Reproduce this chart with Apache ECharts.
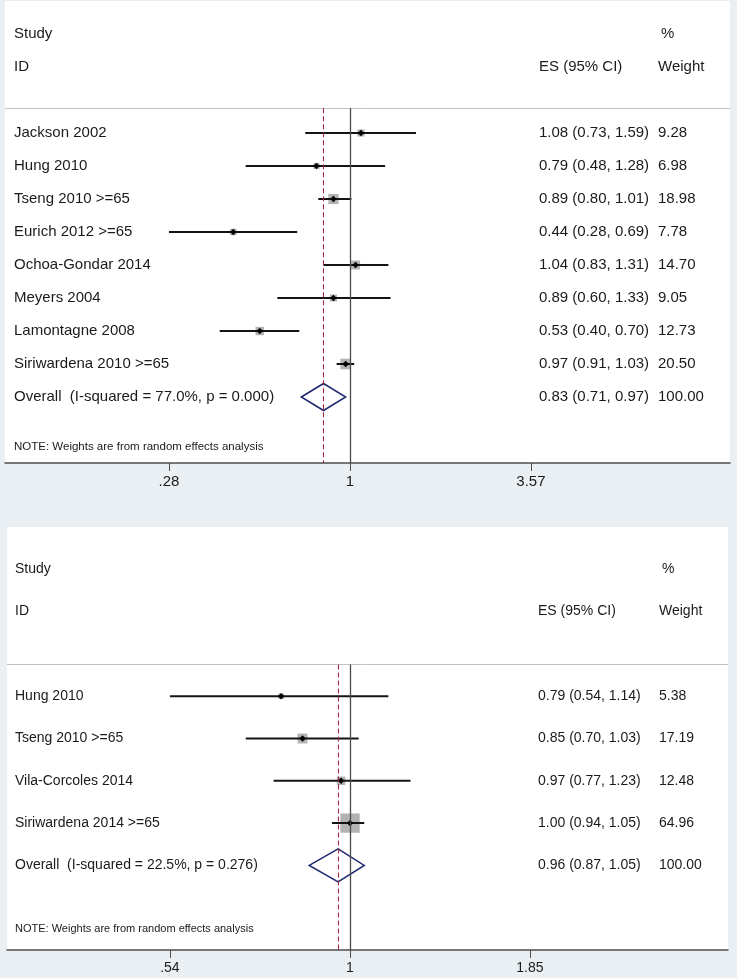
<!DOCTYPE html>
<html>
<head>
<meta charset="utf-8">
<script src="https://cdn.jsdelivr.net/npm/echarts@6/dist/echarts.min.js"></script>
<style>
html,body{margin:0;padding:0;background:#e9eff2;}
#main{width:737px;height:978px;}
</style>
</head>
<body>
<div id="main"></div>
<script>
// ---------- Panel A data ----------
const studiesA = ['Jackson 2002','Hung 2010','Tseng 2010 >=65','Eurich 2012 >=65','Ochoa-Gondar 2014','Meyers 2004','Lamontagne 2008','Siriwardena 2010 >=65'];
const esA     = [1.08, 0.79, 0.89, 0.44, 1.04, 0.89, 0.53, 0.97];
const lowA    = [0.73, 0.48, 0.80, 0.28, 0.83, 0.60, 0.40, 0.91];
const highA   = [1.59, 1.28, 1.01, 0.69, 1.31, 1.33, 0.70, 1.03];
const weightA = [9.28, 6.98, 18.98, 7.78, 14.70, 9.05, 12.73, 20.50];
const overallLabelA = 'Overall  (I-squared = 77.0%, p = 0.000)';
const overallA = [0.83, 0.71, 0.97];   // ES, low, high
const overallWeightA = 100.00;
const tickValuesA = [0.28, 1, 3.57];
const tickLabelsA = ['.28', '1', '3.57'];

// ---------- Panel B data ----------
const studiesB = ['Hung 2010','Tseng 2010 >=65','Vila-Corcoles 2014','Siriwardena 2014 >=65'];
const esB     = [0.79, 0.85, 0.97, 1.00];
const lowB    = [0.54, 0.70, 0.77, 0.94];
const highB   = [1.14, 1.03, 1.23, 1.05];
const weightB = [5.38, 17.19, 12.48, 64.96];
const overallLabelB = 'Overall  (I-squared = 22.5%, p = 0.276)';
const overallB = [0.96, 0.87, 1.05];
const overallWeightB = 100.00;
const tickValuesB = [0.54, 1, 1.85];
const tickLabelsB = ['.54', '1', '1.85'];

const noteText = 'NOTE: Weights are from random effects analysis';

const FONT = '"Liberation Sans", Arial, Helvetica, sans-serif';

// layout (styling only)
const layoutA = {left:5, top:1, width:725, height:462, xmin:0.08837, xmax:14.474,
  font:15, noteFont:11.5, tickFont:15, labelMargin:11.5, boxScale:2.35, diamondHalf:13.5,
  textX:14, esX:539, wX:658, pctX:661};
const layoutB = {left:7, top:527, width:721, height:423, xmin:0.30928, xmax:3.6444,
  font:14, noteFont:11, tickFont:14, labelMargin:11, boxScale:2.4, diamondHalf:16.5,
  textX:15, esX:538, wX:659, pctX:662};

function fmtES(e, l, h) { return e.toFixed(2) + ' (' + l.toFixed(2) + ', ' + h.toFixed(2) + ')'; }

function buildPanel(i, P, L) {
  const n = P.studies.length;
  const grid = {left:L.left, top:L.top, width:L.width, height:L.height, show:true,
    backgroundColor:'#ffffff', borderWidth:0, containLabel:false};
  const xAxis = {type:'log', gridIndex:i, min:L.xmin, max:L.xmax, position:'bottom',
    axisLine:{show:true, onZero:false, lineStyle:{color:'#4d4d4d', width:1.5}},
    axisTick:{show:true, customValues:P.tickValues, length:8, lineStyle:{color:'#4d4d4d', width:1}},
    axisLabel:{show:true, customValues:P.tickValues, margin:L.labelMargin, color:'#1a1a1a',
      fontSize:L.tickFont, fontFamily:FONT,
      formatter: function (v) {
        for (let k = 0; k < P.tickValues.length; k++) {
          if (Math.abs(P.tickValues[k] - v) < 1e-6) return P.tickLabels[k];
        }
        return '';
      }},
    splitLine:{show:false}, minorTick:{show:false}, minorSplitLine:{show:false}};
  const yAxis = {type:'value', gridIndex:i, min:-4, max:n + 2, inverse:true, show:false,
    splitLine:{show:false}};

  const studyData = P.es.map((v, k) => [v, k, P.low[k], P.high[k], P.weight[k]]);
  const studySeries = {
    type:'custom', xAxisIndex:i, yAxisIndex:i, data:studyData, encode:{x:0, y:1},
    animation:false, silent:true, z:3,
    renderItem: function (params, api) {
      const row = api.value(1);
      const c = api.coord([api.value(0), row]);
      const xl = api.coord([api.value(2), row])[0];
      const xh = api.coord([api.value(3), row])[0];
      const s = L.boxScale * Math.sqrt(api.value(4));
      const d = 3.2;
      return {type:'group', children:[
        {type:'rect', shape:{x:c[0] - s / 2, y:c[1] - s / 2, width:s, height:s}, style:{fill:'#b3b3b3'}},
        {type:'line', shape:{x1:xl, y1:c[1], x2:xh, y2:c[1]}, style:{stroke:'#141414', lineWidth:2}},
        {type:'polygon', shape:{points:[[c[0] - d, c[1]], [c[0], c[1] - d], [c[0] + d, c[1]], [c[0], c[1] + d]]}, style:{fill:'#000'}}
      ]};
    },
    markLine:{silent:true, animation:false, symbol:['none','none'], label:{show:false},
      data:[
        [{coord:[L.xmin, -0.75], lineStyle:{color:'#c2c2c2', width:1, type:'solid'}}, {coord:[L.xmax, -0.75]}],
        [{coord:[1, -0.75], lineStyle:{color:'#4a4a4a', width:1.3, type:'solid'}}, {coord:[1, n + 2]}],
        [{coord:[P.overall[0], -0.75], lineStyle:{color:'#a3243a', width:1.1, type:[5, 3]}}, {coord:[P.overall[0], n + 2]}]
      ]}
  };

  const diamondSeries = {
    type:'custom', xAxisIndex:i, yAxisIndex:i,
    data:[[P.overall[0], n, P.overall[1], P.overall[2]]], encode:{x:0, y:1},
    animation:false, silent:true, z:4,
    renderItem: function (params, api) {
      const row = api.value(1);
      const c = api.coord([api.value(0), row]);
      const xl = api.coord([api.value(2), row])[0];
      const xh = api.coord([api.value(3), row])[0];
      const h = L.diamondHalf;
      return {type:'polygon', shape:{points:[[xl, c[1]], [c[0], c[1] - h], [xh, c[1]], [c[0], c[1] + h]]},
        style:{fill:'none', stroke:'#1f2a6e', lineWidth:1.5}};
    }
  };

  // table text lines
  const lines = [];
  lines.push({row:-3, items:[[L.textX, 'Study'], [L.pctX, '%']]});
  lines.push({row:-2, items:[[L.textX, 'ID'], [L.esX, 'ES (95% CI)'], [L.wX, 'Weight']]});
  P.studies.forEach((name, k) => {
    lines.push({row:k, items:[[L.textX, name], [L.esX, fmtES(P.es[k], P.low[k], P.high[k])], [L.wX, P.weight[k].toFixed(2)]]});
  });
  lines.push({row:n, items:[[L.textX, P.overallLabel], [L.esX, fmtES(P.overall[0], P.overall[1], P.overall[2])], [L.wX, P.overallWeight.toFixed(2)]]});
  lines.push({row:n + 1.5, small:true, items:[[L.textX, noteText]]});

  const textSeries = {
    type:'custom', xAxisIndex:i, yAxisIndex:i, data:lines.map(l => [1, l.row]), encode:{x:0, y:1},
    animation:false, silent:true, z:5,
    renderItem: function (params, api) {
      const ln = lines[params.dataIndex];
      const y = api.coord([1, api.value(1)])[1];
      const fs = ln.small ? L.noteFont : L.font;
      return {type:'group', children: ln.items.map(it => ({
        type:'text', x:it[0], y:y,
        style:{text:it[1], fill:'#1a1a1a', fontSize:fs, fontFamily:FONT, align:'left', verticalAlign:'middle'}
      }))};
    }
  };

  return {grid, xAxis, yAxis, series:[studySeries, diamondSeries, textSeries]};
}

const pA = buildPanel(0, {studies:studiesA, es:esA, low:lowA, high:highA, weight:weightA,
  overall:overallA, overallLabel:overallLabelA, overallWeight:overallWeightA,
  tickValues:tickValuesA, tickLabels:tickLabelsA}, layoutA);
const pB = buildPanel(1, {studies:studiesB, es:esB, low:lowB, high:highB, weight:weightB,
  overall:overallB, overallLabel:overallLabelB, overallWeight:overallWeightB,
  tickValues:tickValuesB, tickLabels:tickLabelsB}, layoutB);

const chart = echarts.init(document.getElementById('main'), null, {renderer:'canvas'});
chart.setOption({
  backgroundColor:'#e9eff2',
  animation:false,
  grid:[pA.grid, pB.grid],
  xAxis:[pA.xAxis, pB.xAxis],
  yAxis:[pA.yAxis, pB.yAxis],
  series:[...pA.series, ...pB.series]
});
</script>
</body>
</html>
